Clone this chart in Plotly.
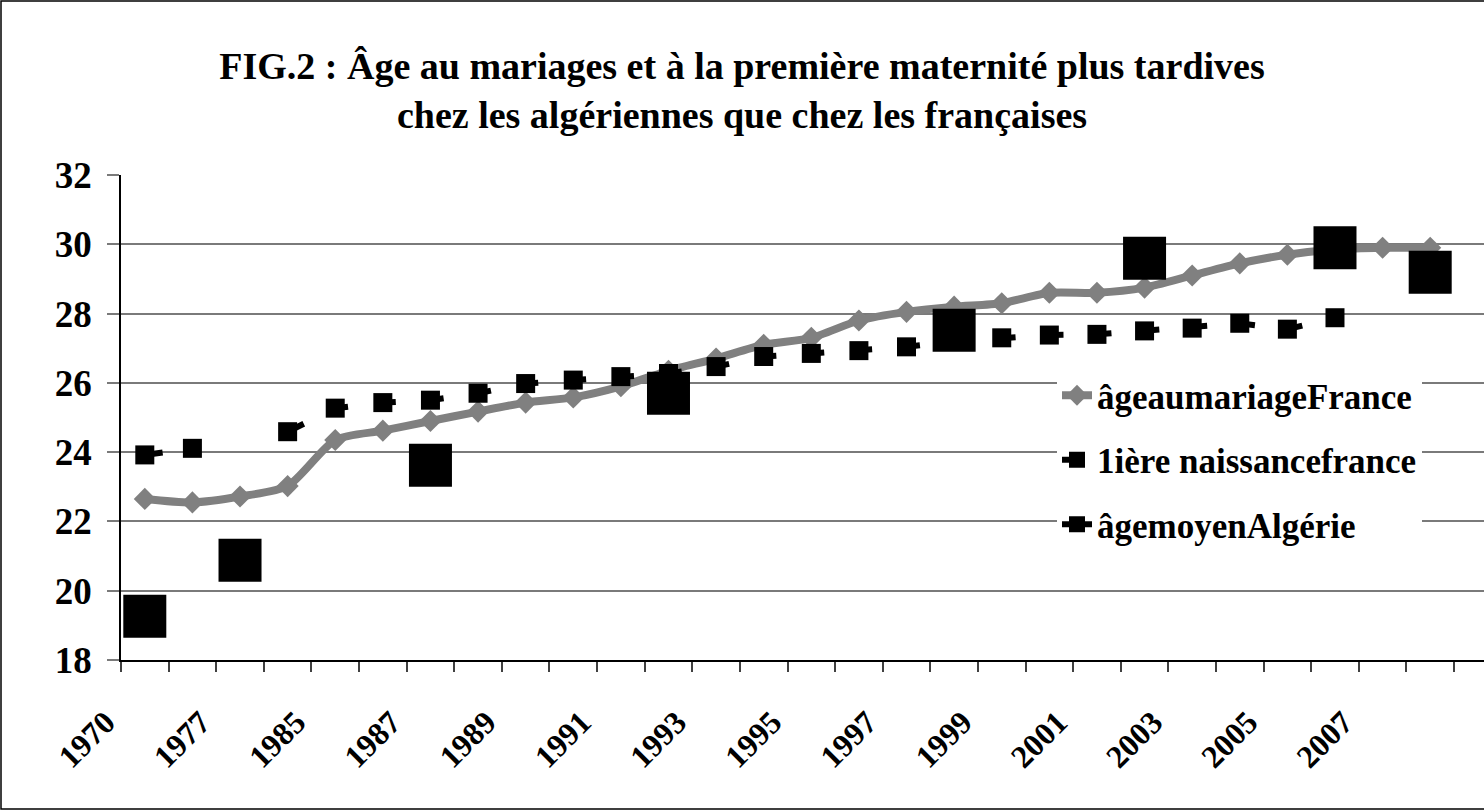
import plotly.graph_objects as go

# ---------------- data ----------------
categories = ["1970", "1975", "1977", "1980", "1985", "1986", "1987", "1988", "1989", "1990",
              "1991", "1992", "1993", "1994", "1995", "1996", "1997", "1998", "1999", "2000",
              "2001", "2002", "2003", "2004", "2005", "2006", "2007", "2008"]

# only every other category carries a visible label
tick_labels = ["1970", "", "1977", "", "1985", "", "1987", "", "1989", "",
               "1991", "", "1993", "", "1995", "", "1997", "", "1999", "",
               "2001", "", "2003", "", "2005", "", "2007", ""]

age_mariage_france = [22.65, 22.55, 22.72, 23.02, 24.35, 24.62, 24.9, 25.17, 25.43, 25.58,
                      25.9, 26.35, 26.7, 27.1, 27.3, 27.8, 28.05, 28.2, 28.3, 28.6,
                      28.6, 28.75, 29.1, 29.45, 29.7, 29.85, 29.9, 29.9]

premiere_naissance_france = [23.92, 24.11, None, 24.59, 25.27, 25.43, 25.5, 25.7, 25.98, 26.08,
                             26.18, 26.27, 26.47, 26.76, 26.85, 26.93, 27.04, 27.2, 27.3, 27.38,
                             27.4, 27.5, 27.58, 27.72, 27.55, 27.88, None, None]

age_moyen_algerie = [19.26, None, 20.88, None, None, None, 23.62, None, None, None,
                     None, 25.7, None, None, None, None, None, 27.52, None, None,
                     None, 29.6, None, None, None, 29.9, None, 29.19]

series_names = ["âgeaumariageFrance", "1ière naissancefrance", "âgemoyenAlgérie"]

title_text = ("FIG.2 : Âge au mariages et à la première maternité plus tardives"
              "<br>chez les algériennes que chez les françaises")

# ---------------- layout constants ----------------
W, H = 1484, 811
ML, MR, MT, MB = 121, 0, 175, 151
PW, PH = W - ML - MR, H - MT - MB
FONT = "Liberation Serif"


def px_x(p):
    return (p - ML) / PW


def px_y(p):
    return (H - MB - p) / PH


fig = go.Figure()

fig.add_trace(go.Scatter(
    x=categories, y=age_mariage_france, name=series_names[0],
    mode="lines+markers", legendgroup="a",
    line=dict(color="#808080", width=8, shape="spline", smoothing=0.7),
    marker=dict(symbol="diamond", size=17, color="#808080"),
))

fig.add_trace(go.Scatter(
    x=categories, y=premiere_naissance_france, name=series_names[1],
    mode="lines+markers", legendgroup="b", connectgaps=False,
    line=dict(color="black", width=6, dash="18px,30px"),
    marker=dict(symbol="square", size=19, color="black"),
))

fig.add_trace(go.Scatter(
    x=categories, y=age_moyen_algerie, name=series_names[2],
    mode="lines+markers", legendgroup="c", connectgaps=False,
    line=dict(color="black", width=6),
    marker=dict(symbol="square", size=43, color="black"),
))

fig.update_layout(
    width=W, height=H,
    margin=dict(l=ML, r=MR, t=MT, b=MB, pad=0),
    paper_bgcolor="white", plot_bgcolor="white",
    font=dict(family=FONT, color="black"),
    title=dict(text=title_text, x=0.5, xref="container", xanchor="center",
               y=1 - 79 / H, yref="container", yanchor="middle",
               font=dict(family=FONT, size=38, color="black", weight="bold")),
    showlegend=True,
    legend=dict(x=px_x(1057), y=px_y(366), xanchor="left", yanchor="top",
                bgcolor="white", borderwidth=0, traceorder="grouped",
                tracegroupgap=16,
                font=dict(family=FONT, size=35, color="black", weight="bold")),
    shapes=[
        # white backing of the legend box
        dict(type="rect", xref="paper", yref="paper", layer="between",
             x0=px_x(952), x1=px_x(1474), y0=px_y(532), y1=px_y(370),
             fillcolor="white", line=dict(width=0)),
        # outer chart border
        dict(type="rect", xref="paper", yref="paper", layer="above",
             x0=px_x(1), x1=px_x(W + 10), y0=px_y(H - 2), y1=px_y(1),
             fillcolor="rgba(0,0,0,0)", line=dict(color="black", width=1.5)),
    ],
)

fig.update_xaxes(
    type="category", range=[-0.5, 28.13],
    tickmode="array", tickvals=categories, ticktext=tick_labels,
    tickson="boundaries", ticks="outside", ticklen=10, tickwidth=1.5, tickcolor="#404040",
    tickangle=-45, showgrid=False, zeroline=False,
    showline=True, linecolor="black", linewidth=1.5,
    ticklabelstandoff=29, ticklabelshift=-39,
    tickfont=dict(family=FONT, size=32, color="black", weight="bold"),
)

fig.update_yaxes(
    range=[18, 32], tick0=18, dtick=2,
    showgrid=True, gridcolor="#7a7a7a", gridwidth=1.5,
    ticks="outside", ticklen=12, tickwidth=1.5, tickcolor="#7a7a7a",
    showline=True, linecolor="black", linewidth=1.5, zeroline=False,
    ticklabelstandoff=8,
    tickfont=dict(family=FONT, size=37, color="black", weight="bold"),
)

fig.write_html("out.html", config={"displayModeBar": False},
               post_script="document.body.style.margin='0';")
